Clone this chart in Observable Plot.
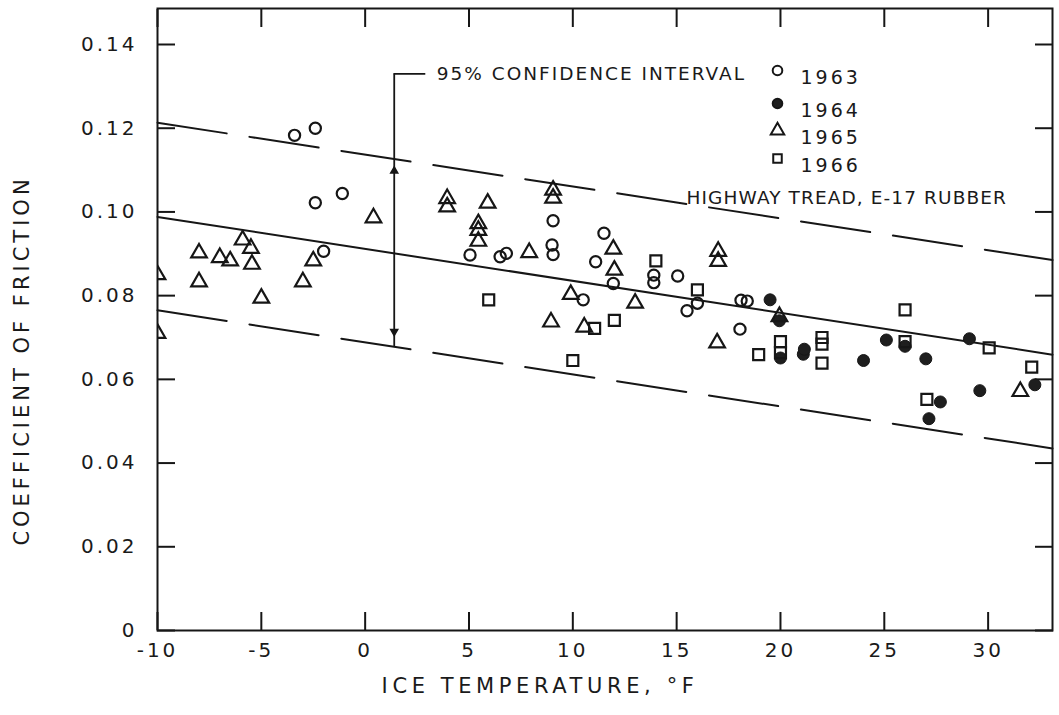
<!DOCTYPE html>
<html><head><meta charset="utf-8">
<script src="https://cdn.jsdelivr.net/npm/d3@7"></script>
<script src="https://cdn.jsdelivr.net/npm/@observablehq/plot@0.6"></script>
<style>
body{margin:0;background:#fff;}
#chart svg{display:block;}
#chart svg text{fill:#1a1a1a;}
g[aria-label="x-axis tick label"] text, g[aria-label="y-axis tick label"] text{letter-spacing:3px;}
</style></head><body><div id="chart"></div>
<script>
// ---- data (ice temperature °F, coefficient of friction) ----
const t1963 = [-3.4, -2.4, -1.1, -2.4, -2.0, 5.05, 6.5, 6.8, 9.0, 9.05, 9.05, 10.5, 11.5, 11.1, 11.95, 13.9, 13.9, 15.05, 16.0, 15.5, 18.1, 18.4, 18.05];
const f1963 = [0.1183, 0.1200, 0.1044, 0.1022, 0.0906, 0.0897, 0.0893, 0.0901, 0.0921, 0.0898, 0.0979, 0.0790, 0.0949, 0.0881, 0.0829, 0.0849, 0.0831, 0.0847, 0.0782, 0.0764, 0.0789, 0.0787, 0.0720];
const t1964 = [19.5, 19.95, 20.0, 21.1, 21.15, 24.0, 25.1, 26.0, 27.0, 29.1, 29.6, 32.25, 27.7, 27.15];
const f1964 = [0.0790, 0.0740, 0.0651, 0.0660, 0.0672, 0.0645, 0.0694, 0.0679, 0.0649, 0.0697, 0.0573, 0.0587, 0.0546, 0.0506];
const t1965 = [-10, -10, -8.0, -8.0, -7.0, -6.5, -5.9, -5.5, -5.45, -5.0, -3.0, -2.5, 0.4, 3.95, 3.95, 5.9, 5.45, 5.45, 5.45, 7.9, 9.05, 9.05, 11.95, 12.0, 9.9, 8.95, 10.55, 13.0, 17.0, 17.0, 16.95, 19.95, 31.55];
const f1965 = [0.0850, 0.0710, 0.0902, 0.0833, 0.0891, 0.0883, 0.0933, 0.0913, 0.0875, 0.0794, 0.0833, 0.0883, 0.0986, 0.1032, 0.1012, 0.1021, 0.0972, 0.0956, 0.0930, 0.0903, 0.1052, 0.1033, 0.0911, 0.0861, 0.0803, 0.0737, 0.0725, 0.0782, 0.0906, 0.0882, 0.0687, 0.0750, 0.0571];
const t1966 = [5.95, 11.05, 12.0, 10.0, 14.0, 16.0, 20.0, 20.0, 18.95, 22.0, 22.0, 22.0, 26.0, 26.0, 30.05, 32.1, 27.05];
const f1966 = [0.0790, 0.0722, 0.0741, 0.0645, 0.0883, 0.0814, 0.0690, 0.0664, 0.0659, 0.0700, 0.0684, 0.0639, 0.0766, 0.0690, 0.0675, 0.0629, 0.0552];

// regression line and 95% confidence band (ends)
const lineT = [-10, 33.1];
const regF = [0.0988, 0.0659];
const upperF = [0.1213, 0.0885];
const lowerF = [0.0765, 0.0435];

// annotation
const ciT = 1.4, ciTopF = 0.133, ciLeaderEndT = 2.92, ciTextT = 3.45;
const ciUpTipF = 0.1105, ciDownTipF = 0.0707, ciBottomF = 0.0678;
const ciLabel = "95% CONFIDENCE INTERVAL";
const noteLabel = "HIGHWAY TREAD, E-17 RUBBER";
const yTitle = "COEFFICIENT OF FRICTION";
const xTitle = "ICE TEMPERATURE, °F";

// legend
const legendYears = ["1963", "1964", "1965", "1966"];
const legendSymbols = ["circle", "circle", "triangle", "square"];
const legendFill = ["none", "#1e1e1e", "none", "none"];
const legendDy = [62, 95, 122, 150];

const xTicks = [-10, -5, 0, 5, 10, 15, 20, 25, 30];
const yTicks = [0, 0.02, 0.04, 0.06, 0.08, 0.10, 0.12, 0.14];

const pts = (ts, fs) => ts.map((t, i) => ({t, f: fs[i]}));
const band = lineT.map((t, i) => ({t, reg: regF[i], up: upperF[i], lo: lowerF[i]}));

const ink = "#161616";
const font = "DejaVu Sans";

const chart = Plot.plot({
  width: 1059, height: 715,
  marginLeft: 157, marginRight: 7, marginTop: 8, marginBottom: 85,
  x: {domain: [-10, 33.1]},
  y: {domain: [0, 0.1486]},
  style: {fontFamily: font, background: "white", color: ink},
  marks: [
    // tick labels
    Plot.axisX(xTicks, {anchor: "bottom", tickSize: 0, tickPadding: 12, fontSize: 20, label: null, tickFormat: d => String(d)}),
    Plot.axisY(yTicks, {anchor: "left", tickSize: 0, tickPadding: 20, fontSize: 20, label: null, tickFormat: d => d === 0 ? "0" : d.toFixed(2)}),
    // inward ticks on all four sides
    Plot.axisX(xTicks, {anchor: "bottom", tickSize: 18, dy: -18, strokeWidth: 2, label: null, tickFormat: () => ""}),
    Plot.axisX(xTicks, {anchor: "top", tickSize: 18, dy: 18, strokeWidth: 2, label: null, tickFormat: () => ""}),
    Plot.axisY(yTicks, {anchor: "left", tickSize: 18, dx: 18, strokeWidth: 2, label: null, tickFormat: () => ""}),
    Plot.axisY(yTicks, {anchor: "right", tickSize: 18, dx: -18, strokeWidth: 2, label: null, tickFormat: () => ""}),
    Plot.frame({stroke: ink, strokeWidth: 2}),
    // axis titles
    Plot.text([yTitle], {frameAnchor: "left", textAnchor: "middle", dx: -135, dy: 41, rotate: -90, fontSize: 21}),
    Plot.text([xTitle], {frameAnchor: "bottom", textAnchor: "middle", dx: -65, dy: 62, fontSize: 21}),
    // regression + confidence band
    Plot.line(band, {x: "t", y: "reg", stroke: ink, strokeWidth: 2}),
    Plot.line(band, {x: "t", y: "up", stroke: ink, strokeWidth: 2, strokeDasharray: "70,23"}),
    Plot.line(band, {x: "t", y: "lo", stroke: ink, strokeWidth: 2, strokeDasharray: "70,23"}),
    // confidence interval annotation
    Plot.ruleX([ciT], {y1: ciBottomF, y2: ciTopF, stroke: ink, strokeWidth: 1.8}),
    Plot.ruleY([ciTopF], {x1: ciT, x2: ciLeaderEndT, stroke: ink, strokeWidth: 1.8}),
    Plot.dot([ciUpTipF], {x: () => ciT, y: d => d, symbol: "triangle", r: 2.6, fill: ink, stroke: ink, dy: 3}),
    Plot.dot([ciDownTipF], {x: () => ciT, y: d => d, symbol: "triangle", r: 2.6, fill: ink, stroke: ink, rotate: 180, dy: -3}),
    Plot.text([ciLabel], {x: () => ciTextT, y: () => ciTopF, textAnchor: "start", fontSize: 18.5}),
    Plot.text([noteLabel], {frameAnchor: "top-left", dx: 529, dy: 182, textAnchor: "start", fontSize: 18.5}),
    // data
    Plot.dot(pts(t1963, f1963), {x: "t", y: "f", symbol: "circle", r: 5.6, fill: "none", stroke: ink, strokeWidth: 2.2}),
    Plot.dot(pts(t1964, f1964), {x: "t", y: "f", symbol: "circle", r: 6, fill: "#1e1e1e", stroke: ink, strokeWidth: 1}),
    Plot.dot(pts(t1965, f1965), {x: "t", y: "f", symbol: "triangle", r: 5.8, fill: "none", stroke: ink, strokeWidth: 2.2, clip: true}),
    Plot.dot(pts(t1966, f1966), {x: "t", y: "f", symbol: "square", r: 6.2, fill: "none", stroke: ink, strokeWidth: 2.2}),
    // legend
    ...legendYears.map((yr, i) => Plot.dot([yr], {frameAnchor: "top-left", dx: 620, dy: legendDy[i], symbol: legendSymbols[i], r: i === 2 ? 5 : 4.8, fill: legendFill[i], stroke: ink, strokeWidth: 2})),
    ...legendYears.map((yr, i) => Plot.text([yr], {frameAnchor: "top-left", dx: 643, dy: legendDy[i], textAnchor: "start", fontSize: 19}))
  ]
});
// letter spacing to mimic the wide drafting lettering
const spacing = new Map([[yTitle, 4], [xTitle, 4.6], [ciLabel, 2], [noteLabel, 1.1], ...legendYears.map(y => [y, 3])]);
d3.select(chart).selectAll("text").each(function () {
  const ls = spacing.get(this.textContent);
  if (ls != null) this.setAttribute("letter-spacing", ls);
});
document.getElementById("chart").appendChild(chart);
</script>
</body></html>
